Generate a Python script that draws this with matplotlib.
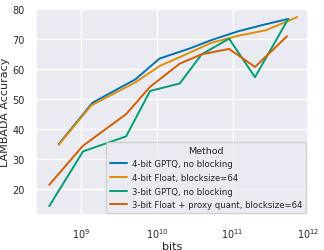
import matplotlib
matplotlib.use("Agg")
import matplotlib.pyplot as plt
import seaborn as sns

# Data (x = total bits, y = LAMBADA accuracy)
gptq4_bits = [5.0e8, 1.4e9, 5.2e9, 1.08e10, 2.68e10, 5.2e10, 1.2e11, 2.64e11, 5.5e11]
gptq4_acc = [34.9, 48.7, 56.5, 63.4, 66.7, 69.5, 72.5, 74.7, 76.6]

float4_bits = [5.0e8, 1.35e9, 5.2e9, 1.08e10, 2.68e10, 5.2e10, 1.2e11, 2.75e11, 7.2e11]
float4_acc = [34.7, 47.8, 55.5, 60.9, 65.3, 68.6, 71.0, 72.8, 77.2]

gptq3_bits = [3.75e8, 1.05e9, 3.9e9, 8.1e9, 2.0e10, 3.9e10, 9.0e10, 1.98e11, 5.4e11]
gptq3_acc = [14.3, 32.5, 37.5, 52.6, 55.1, 64.8, 70.0, 57.2, 76.4]

float3_bits = [3.75e8, 1.05e9, 3.9e9, 8.1e9, 2.0e10, 3.9e10, 9.0e10, 1.98e11, 5.25e11]
float3_acc = [21.4, 34.4, 44.9, 54.0, 61.7, 64.8, 66.6, 60.6, 70.8]

labels = ["4-bit GPTQ, no blocking", "4-bit Float, blocksize=64",
          "3-bit GPTQ, no blocking", "3-bit Float + proxy quant, blocksize=64"]

sns.set_theme(style="darkgrid")
plt.rcParams['font.family'] = ['DejaVu Sans']
colors = sns.color_palette("colorblind")

fig = plt.figure(figsize=(3.24, 2.51), dpi=100)
ax = fig.add_axes([0.111, 0.139, 0.840, 0.825])

series = [(gptq4_bits, gptq4_acc), (float4_bits, float4_acc),
          (gptq3_bits, gptq3_acc), (float3_bits, float3_acc)]
for i, ((xs, ys), lab) in enumerate(zip(series, labels)):
    ax.plot(xs, ys, color=colors[i], lw=1.4, label=lab)

ax.set_xscale("log")
ax.set_xlim(2.5e8, 1.0e12)
ax.set_ylim(11.3, 80.2)
ax.set_yticks([20, 30, 40, 50, 60, 70, 80])
ax.minorticks_off()
ax.tick_params(labelsize=7, pad=2)
ax.set_xlabel("bits", fontsize=8, labelpad=1)
ax.set_ylabel("LAMBADA Accuracy", fontsize=8, labelpad=2)

leg = ax.legend(title="Method", loc="lower right", fontsize=6.1, title_fontsize=6.8,
                handlelength=2.0, borderpad=0.4, labelspacing=0.55, handletextpad=0.6,
                borderaxespad=0.3)

fig.savefig("out.png", dpi=100)
